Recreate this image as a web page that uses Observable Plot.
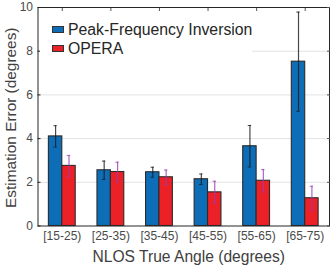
<!DOCTYPE html>
<html><head><meta charset="utf-8">
<script src="https://cdn.jsdelivr.net/npm/d3@7"></script>
<script src="https://cdn.jsdelivr.net/npm/@observablehq/plot@0.6"></script>
<style>
body{margin:0;background:#fff;font-family:"Liberation Sans",Arial,sans-serif}
#wrap{position:relative;width:331px;height:268px}
.legend{position:absolute;left:40px;top:18px;width:212px;height:42px;background:#fff;color:#262626;font-size:15.8px}
.legend .row{position:absolute;left:12px;height:18px;line-height:18px;white-space:nowrap}
.legend .sw{display:inline-block;width:10px;height:5px;border:1px solid #333;margin-right:4px;vertical-align:middle;position:relative;top:-1px}
</style></head>
<body><div id="wrap"></div>
<script>
const categories = ["[15-25)","[25-35)","[35-45)","[45-55)","[55-65)","[65-75)"];
const series = ["Peak-Frequency Inversion","OPERA"];
const pfiMean = [4.10,2.55,2.46,2.14,3.65,7.52];
const pfiErr = [0.49,0.42,0.23,0.24,0.95,2.27];
const operaMean = [2.75,2.47,2.23,1.54,2.07,1.27];
const operaErr = [0.48,0.45,0.33,0.51,0.51,0.55];
const yTicks = [0,2,4,6,8,10];
const barColors = ["#0d6db7","#ec2027"];
const errColors = ["#1a1a1a","#9a3cb0"];

const W = 0.276;
const rows = [];
categories.forEach((c,i)=>{
  rows.push({g:i+1, s:0, mean:pfiMean[i], err:pfiErr[i]});
  rows.push({g:i+1, s:1, mean:operaMean[i], err:operaErr[i]});
});
const x1 = d => d.s===0 ? d.g - W : d.g;
const x2 = d => d.s===0 ? d.g : d.g + W;
const xc = d => d.s===0 ? d.g - W/2 : d.g + W/2;
const cap = 0.035;

const plot = Plot.plot({
  width: 331, height: 268,
  marginLeft: 37.5, marginRight: 2, marginTop: 7, marginBottom: 42.5,
  style: {fontFamily: '"Liberation Sans", Arial, sans-serif', background: "#fff", overflow: "visible"},
  x: {domain: [0.5, 6.5]},
  y: {domain: [0, 10]},
  marks: [
    Plot.ruleY(yTicks.filter(t => t>0 && t<10), {stroke: "#e3e3e3", strokeWidth: 1}),
    Plot.rectY(rows, {x1, x2, y1: 0, y2: "mean", fill: d => barColors[d.s], stroke: "#2b2b2b", strokeWidth: 1.1}),
    Plot.ruleX(rows, {x: xc, y1: d => d.mean - d.err, y2: d => d.mean + d.err, stroke: d => errColors[d.s], strokeOpacity: 0.8, strokeWidth: 1.2}),
    Plot.ruleY(rows, {y: d => d.mean + d.err, x1: d => xc(d) - cap, x2: d => xc(d) + cap, stroke: d => errColors[d.s], strokeOpacity: 0.8, strokeWidth: 1}),
    Plot.ruleY(rows, {y: d => d.mean - d.err, x1: d => xc(d) - cap, x2: d => xc(d) + cap, stroke: d => errColors[d.s], strokeOpacity: 0.8, strokeWidth: 1}),
    Plot.frame({stroke: "#262626", strokeWidth: 1}),
    Plot.axisY({ticks: yTicks, tickSize: -3, tickPadding: 8, fontSize: 12, color: "#4a4a4a", stroke: "#262626", label: null}),
    Plot.axisY({anchor: "right", ticks: yTicks, tickSize: -3, tickFormat: () => "", label: null, stroke: "#555"}),
    Plot.axisX({ticks: categories.map((c,i)=>i+1), tickFormat: d => categories[d-1], tickSize: 0, tickPadding: 5, fontSize: 12, color: "#4a4a4a", label: null}),
    Plot.axisX({anchor: "top", ticks: categories.map((c,i)=>i+1), tickSize: -3, tickFormat: () => "", label: null, stroke: "#555"}),
    Plot.text(["NLOS True Angle (degrees)"], {frameAnchor: "bottom", dy: 36, dx: 5, fontSize: 15.6, fill: "#404040"}),
    Plot.text(["Estimation Error (degrees)"], {frameAnchor: "left", textAnchor: "middle", dx: -27, dy: 1, rotate: -90, fontSize: 15.4, fill: "#404040"})
  ]
});
const wrap = document.getElementById("wrap");
wrap.appendChild(plot);
const leg = document.createElement("div");
leg.className = "legend";
series.forEach((s,i)=>{
  const r = document.createElement("div");
  r.className = "row";
  r.style.top = (3 + i*19) + "px";
  const sw = document.createElement("span");
  sw.className = "sw";
  sw.style.background = barColors[i];
  r.appendChild(sw);
  r.appendChild(document.createTextNode(s));
  leg.appendChild(r);
});
wrap.appendChild(leg);
</script>
</body></html>
